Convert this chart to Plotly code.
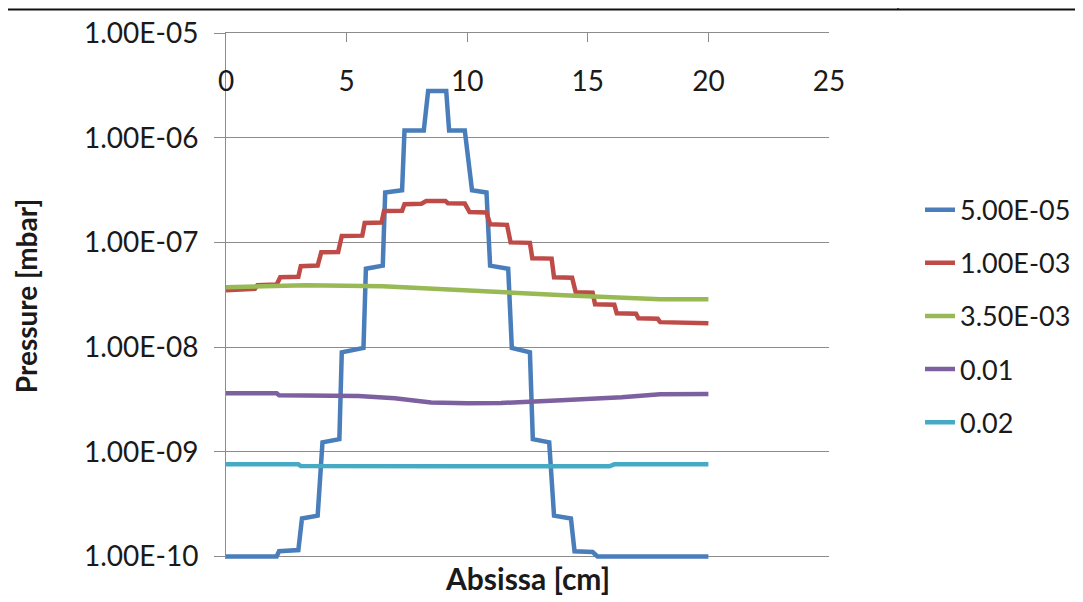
import plotly.graph_objects as go

# ---- data ----
x_tick_vals = [0, 5, 10, 15, 20, 25]
y_tick_vals = [1e-10, 1e-9, 1e-8, 1e-7, 1e-6, 1e-5]
y_tick_text = ["1.00E-10", "1.00E-09", "1.00E-08", "1.00E-07", "1.00E-06", "1.00E-05"]

series_names = ["5.00E-05", "1.00E-03", "3.50E-03", "0.01", "0.02"]
series_colors = ["#4A7EBB", "#BE4B48", "#98B954", "#7D60A0", "#46AAC5"]

x_5e5 = [0, 2.1, 2.2, 3.0, 3.15, 3.8, 4.0, 4.7, 4.8, 5.7, 5.8, 6.5, 6.6, 7.3, 7.4, 8.2,
         8.38, 9.13, 9.25, 9.9, 10.2, 10.8, 10.95, 11.7, 11.85, 12.6, 12.72, 13.4, 13.6,
         14.3, 14.45, 15.2, 15.4, 20]
p_5e5 = [1.0e-10, 1.0e-10, 1.12e-10, 1.15e-10, 2.3e-10, 2.45e-10, 1.23e-9, 1.32e-9,
         8.9e-9, 9.8e-9, 5.6e-8, 6.0e-8, 3.0e-7, 3.15e-7, 1.17e-6, 1.17e-6,
         2.8e-6, 2.8e-6, 1.17e-6, 1.17e-6, 3.15e-7, 3.0e-7, 6.0e-8, 5.6e-8,
         9.8e-9, 8.9e-9, 1.32e-9, 1.23e-9, 2.45e-10, 2.3e-10, 1.12e-10, 1.1e-10, 1.0e-10, 1.0e-10]

x_1e3 = [0, 1.2, 1.3, 2.1, 2.25, 3.0, 3.1, 3.8, 3.95, 4.65, 4.8, 5.65, 5.75, 6.45, 6.55,
         7.3, 7.4, 8.1, 8.3, 9.1, 9.2, 9.9, 10.1, 10.8, 10.95, 11.65, 11.8, 12.6, 12.7,
         13.5, 13.6, 14.35, 14.5, 15.2, 15.3, 16.1, 16.2, 17.0, 17.1, 17.9, 18.0, 18.75,
         18.85, 20]
p_1e3 = [3.49e-8, 3.6e-8, 3.9e-8, 3.95e-8, 4.65e-8, 4.7e-8, 5.92e-8, 6.0e-8, 8.05e-8,
         8.1e-8, 1.15e-7, 1.16e-7, 1.53e-7, 1.55e-7, 1.99e-7, 2.0e-7, 2.32e-7, 2.34e-7,
         2.48e-7, 2.48e-7, 2.37e-7, 2.35e-7, 1.95e-7, 1.93e-7, 1.49e-7, 1.47e-7, 1.0e-7,
         9.9e-8, 7.06e-8, 7.0e-8, 4.65e-8, 4.6e-8, 3.34e-8, 3.3e-8, 2.56e-8, 2.54e-8,
         2.1e-8, 2.08e-8, 1.88e-8, 1.86e-8, 1.73e-8, 1.72e-8, 1.69e-8, 1.69e-8]

x_35e3 = [0, 1.3, 3.3, 6.5, 8.0, 10.0, 12.0, 14.0, 16.0, 18.0, 20]
p_35e3 = [3.73e-8, 3.81e-8, 3.9e-8, 3.81e-8, 3.65e-8, 3.49e-8, 3.27e-8, 3.13e-8, 2.99e-8,
          2.86e-8, 2.86e-8]

x_001 = [0, 2.1, 2.2, 5.5, 7.0, 8.5, 10.0, 11.4, 13.9, 16.4, 18.0, 20]
p_001 = [3.61e-9, 3.61e-9, 3.46e-9, 3.4e-9, 3.24e-9, 2.95e-9, 2.9e-9, 2.92e-9, 3.1e-9,
         3.31e-9, 3.54e-9, 3.56e-9]

x_002 = [0, 3.0, 3.1, 8.8, 9.0, 9.2, 15.9, 16.1, 20]
p_002 = [7.58e-10, 7.58e-10, 7.3e-10, 7.25e-10, 7.1e-10, 7.25e-10, 7.25e-10, 7.58e-10, 7.58e-10]

series_x = [x_5e5, x_1e3, x_35e3, x_001, x_002]
series_p = [p_5e5, p_1e3, p_35e3, p_001, p_002]

FONT = "Lato"
TXT = "#1a1a1a"
FS = 28

fig = go.Figure()
for name, col, xs, ps in zip(series_names, series_colors, series_x, series_p):
    fig.add_trace(go.Scatter(
        x=xs, y=ps, name=name, mode="lines", legendgroup=name,
        line=dict(color=col, width=4.5, shape="linear"),
    ))

# page has an 8px body margin, so the figure is sized and offset for it
OFF = 8
LOW_EXT = 0.025          # extra decades below 1e-10 so the bottom line isn't clipped
DEC_PX = 523 / 5         # pixels per decade
W, H = 1083 - OFF, 602 - OFF
L, T = 226 - OFF, 33 - OFF
R = W - (829 - OFF)
B = H - (556 - OFF) - LOW_EXT * DEC_PX
pw, ph = W - L - R, H - T - B


def px_x(X):
    return (X - OFF - L) / pw


def px_y(Y):
    return (H - B - (Y - OFF)) / ph


fig.update_layout(
    width=W, height=H,
    margin=dict(l=L, r=R, t=T, b=B, autoexpand=False),
    paper_bgcolor="white", plot_bgcolor="white",
    font=dict(family=FONT, size=FS, color=TXT),
    showlegend=True,
    legend=dict(
        x=px_x(920), xanchor="left",
        y=px_y(316), yanchor="middle",
        traceorder="grouped", tracegroupgap=15,
        font=dict(family=FONT, size=27, color=TXT),
        bgcolor="rgba(0,0,0,0)",
    ),
    xaxis=dict(
        range=[0, 25], side="top", automargin=False,
        tickmode="array", tickvals=x_tick_vals,
        ticks="inside", ticklen=9, tickcolor="#8c8c8c", tickwidth=1,
        ticklabelposition="inside", ticklabelstandoff=32, ticklabeloverflow="allow",
        showline=True, linecolor="#8c8c8c", linewidth=1,
        showgrid=False, zeroline=False,
        tickfont=dict(family=FONT, size=FS, color=TXT),
    ),
    yaxis=dict(
        type="log", range=[-10 - LOW_EXT, -4.9995], automargin=False,
        tickmode="array", tickvals=y_tick_vals, ticktext=y_tick_text,
        ticks="outside", ticklen=11, tickcolor="#8c8c8c", tickwidth=1,
        ticklabelstandoff=10,
        showline=True, linecolor="#8c8c8c", linewidth=1,
        showgrid=True, gridcolor="#8c8c8c", gridwidth=1,
        zeroline=False,
        tickfont=dict(family=FONT, size=FS, color=TXT),
        title=dict(text="<b>Pressure [mbar]</b>", standoff=38,
                   font=dict(family=FONT, size=28, color=TXT)),
    ),
)

fig.add_annotation(
    text="<b>Absissa [cm]</b>", xref="paper", yref="paper",
    x=px_x(527), y=px_y(578), xanchor="center", yanchor="middle",
    showarrow=False, font=dict(family=FONT, size=30, color=TXT),
)

# thin border line from the source slide near the top
fig.add_shape(type="line", xref="paper", yref="paper",
              x0=px_x(898), x1=px_x(898), y0=px_y(9), y1=px_y(OFF),
              line=dict(color="#333333", width=1.5))
fig.add_shape(type="line", xref="paper", yref="paper",
              x0=px_x(OFF), x1=px_x(1083), y0=px_y(9.5), y1=px_y(9.5),
              line=dict(color="#111111", width=2))

fig.write_html("out.html")
